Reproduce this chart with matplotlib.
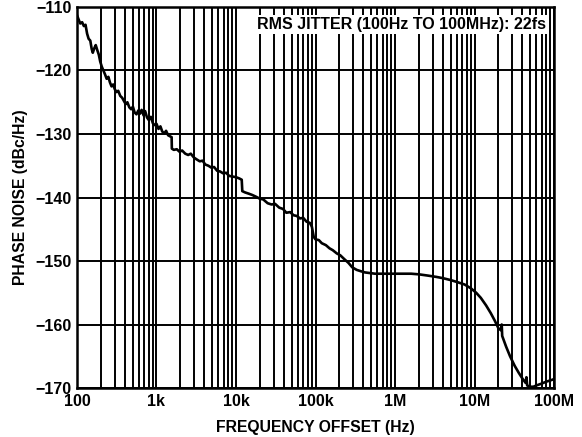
import matplotlib
matplotlib.use("Agg")
import matplotlib.pyplot as plt
from matplotlib.ticker import FixedLocator, FixedFormatter, NullFormatter

plt.rcParams['font.family'] = ['Liberation Sans', 'DejaVu Sans']
plt.rcParams['font.weight'] = 'bold'

# phase noise trace (Hz, dBc/Hz)
freq_hz = [
    100, 105, 110, 116, 122, 128, 134, 140, 147, 153, 158, 165, 172, 180, 188, 196,
    205, 215, 225, 236, 248, 260, 272, 285, 300, 315, 330, 350, 370, 390, 410, 430,
    455, 480, 505, 530, 560, 590, 620, 650, 690, 720, 760, 800, 850, 900, 950, 1000,
    1060, 1120, 1180, 1250, 1320, 1400, 1500, 1550, 1560, 1650, 1800, 1950, 2100, 2300,
    2500, 2700, 2950, 3200, 3500, 3800, 4100, 4500, 4900, 5300, 5800, 6300, 6900, 7500,
    8200, 9000, 10000, 11000, 11800, 12000, 13000, 14500, 16000, 18000, 20000, 22000,
    25000, 28000, 31000, 35000, 39000, 43000, 48000, 53000, 58000, 64000, 70000, 77000,
    85000, 90000, 95000, 100000, 110000, 120000, 135000, 150000, 165000, 185000, 205000,
    230000, 260000, 290000, 330000, 370000, 420000, 480000, 560000, 700000, 900000,
    1.2e6, 1.6e6, 2e6, 2.6e6, 3.3e6, 4e6, 5e6, 6e6, 7.5e6, 9e6, 10.5e6, 12e6, 14e6,
    16e6, 18e6, 20e6, 21.5e6, 22e6, 22.3e6, 25e6, 28e6, 32e6, 36e6, 40e6, 44e6, 45e6,
    46e6, 50e6, 55e6, 60e6, 70e6, 80e6, 90e6, 100e6,
]
noise_dbc = [
    -111.3, -112.0, -112.6, -112.4, -113.0, -112.8, -114.2, -115.0, -115.3, -116.6,
    -117.2, -116.5, -116.0, -116.8, -117.5, -118.6, -119.4, -120.0, -120.6, -121.3,
    -121.0, -121.9, -122.5, -122.2, -123.0, -123.4, -123.2, -124.0, -124.3, -124.8,
    -125.3, -125.0, -125.8, -126.1, -125.7, -126.6, -126.9, -126.3, -126.8, -126.2,
    -127.1, -126.4, -127.4, -127.8, -127.3, -128.3, -128.6, -128.4, -129.2, -128.8,
    -129.6, -129.9, -129.5, -130.2, -130.4, -130.5, -132.3, -132.5, -132.4, -132.8,
    -132.6, -133.1, -133.3, -133.1, -133.7, -134.0, -134.3, -134.2, -134.8, -135.0,
    -135.3, -135.2, -135.8, -135.9, -136.2, -136.1, -136.6, -136.7, -136.8, -137.0,
    -137.2, -139.0, -139.2, -139.4, -139.6, -139.9, -140.2, -140.3, -140.9, -141.1,
    -141.0, -141.6, -141.8, -142.4, -142.3, -142.8, -142.9, -143.3, -143.2, -143.8,
    -144.0, -144.6, -146.2, -146.6, -146.7, -147.2, -147.5, -148.0, -148.3, -148.8,
    -149.1, -149.7, -150.3, -151.0, -151.4, -151.6, -151.8, -151.9, -152.0, -152.0,
    -152.0, -152.0, -152.0, -152.1, -152.3, -152.5, -152.7, -153.0, -153.3, -153.7,
    -154.3, -155.0, -155.8, -157.0, -158.2, -159.4, -160.6, -160.9, -160.0, -161.8,
    -163.5, -165.0, -166.5, -167.6, -168.5, -169.2, -168.3, -169.6, -169.8, -169.8,
    -169.6, -169.3, -169.0, -168.8, -168.6,
]

x_ticks = [1e2, 1e3, 1e4, 1e5, 1e6, 1e7, 1e8]
x_labels = ['100', '1k', '10k', '100k', '1M', '10M', '100M']
y_ticks = [-170, -160, -150, -140, -130, -120, -110]

fig = plt.figure(figsize=(5.82, 4.37), dpi=100)
ax = fig.add_axes([0.1323, 0.1121, 0.8196, 0.8719])

ax.plot(freq_hz, noise_dbc, color='black', lw=1.9, zorder=3)

ax.set_xscale('log')
ax.set_xlim(1e2, 1e8)
ax.set_ylim(-170, -110)
ax.xaxis.set_major_locator(FixedLocator(x_ticks))
ax.xaxis.set_major_formatter(FixedFormatter(x_labels))
minors = [m * d for d in x_ticks[:-1] for m in range(2, 10)]
ax.xaxis.set_minor_locator(FixedLocator(minors))
ax.xaxis.set_minor_formatter(NullFormatter())
ax.set_yticks(y_ticks)
ax.set_yticklabels(['\u2212%d' % abs(v) for v in y_ticks])

ax.grid(True, which='both', axis='x', color='black', lw=1.4)
ax.grid(True, which='major', axis='y', color='black', lw=1.4)
ax.tick_params(which='both', length=0, labelsize=11.5, pad=4)
for s in ax.spines.values():
    s.set_linewidth(1.8)

ax.set_xlabel('FREQUENCY OFFSET (Hz)', fontsize=11.3, fontweight='bold', labelpad=8)
ax.set_ylabel('PHASE NOISE (dBc/Hz)', fontsize=11.3, fontweight='bold', labelpad=5)

ax.text(0.983, 0.954, 'RMS JITTER (100Hz TO 100MHz): 22fs', transform=ax.transAxes,
        ha='right', va='center', fontsize=11.5, fontweight='bold', zorder=4,
        bbox=dict(facecolor='white', edgecolor='none', pad=1.5))

fig.savefig('out.png', dpi=100)
